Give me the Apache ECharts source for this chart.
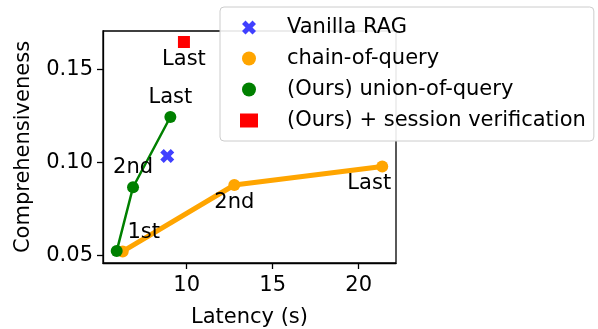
<!DOCTYPE html>
<html>
<head>
<meta charset="utf-8">
<script src="https://cdn.jsdelivr.net/npm/echarts@6/dist/echarts.min.js"></script>
<style>
  html, body { margin: 0; padding: 0; background: #fff; }
  #chart { width: 598px; height: 329px; }
</style>
</head>
<body>
<div id="chart"></div>
<script>
// data
const vanillaRag = [[8.87, 0.1036]];
const chainLatency = [6.28, 12.77, 21.37];
const chainScore = [0.0523, 0.088, 0.0979];
const chainLabels = ["1st", "2nd", "Last"];
const unionLatency = [5.93, 6.88, 9.05];
const unionScore = [0.0525, 0.0868, 0.1245];
const unionLabels = ["", "2nd", "Last"];
const sessionVerif = [[9.84, 0.1648]];
const sessionLabels = ["Last"];
const xTicks = [10, 15, 20];
const yTicks = [0.05, 0.10, 0.15];

const FONT = "DejaVu Sans";
const FS = 21;
const X_ICON = "path://M0,2.5 L2.5,0 L5,2.5 L7.5,0 L10,2.5 L7.5,5 L10,7.5 L7.5,10 L5,7.5 L2.5,10 L0,7.5 L2.5,5 Z";

// label offsets (px) for each annotated point
const chainOffsets = [[21, -19], [0, 18], [-13, 17]];
const unionOffsets = [[0, 0], [0, -20], [0, -19]];

function withLabels(xs, ys, labels, offsets) {
  return xs.map((x, i) => ({
    value: [x, ys[i]],
    label: {
      show: !!labels[i],
      formatter: labels[i],
      position: "inside",
      offset: offsets[i],
      color: "#000",
      fontSize: FS,
      fontFamily: FONT,
    },
  }));
}

const chart = echarts.init(document.getElementById("chart"));
const option = {
  animation: false,
  grid: {
    left: 103, right: 202, top: 31, bottom: 66,
    outerBoundsMode: "none",
    containLabel: false,
    show: true, borderColor: "#000", borderWidth: 1.3,
  },
  legend: {
    orient: "vertical",
    left: 220, top: 7,
    padding: [10, 8, 10, 20],
    itemGap: 10,
    itemWidth: 18, itemHeight: 14,
    backgroundColor: "rgba(255,255,255,0.9)",
    borderColor: "#cccccc", borderWidth: 1, borderRadius: 4,
    textStyle: { fontSize: FS, fontFamily: FONT, color: "#000", lineHeight: 20, padding: [0, 0, 0, 24] },
    data: [
      { name: "Vanilla RAG", icon: X_ICON },
      { name: "chain-of-query", icon: "circle" },
      { name: "(Ours) union-of-query", icon: "circle" },
      { name: "(Ours) + session verification", icon: "rect" },
    ],
  },
  xAxis: {
    type: "value",
    min: 5.134, max: 22.17,
    name: "Latency (s)",
    nameLocation: "middle", nameGap: 44,
    nameTextStyle: { fontSize: FS, fontFamily: FONT, color: "#000" },
    splitLine: { show: false },
    axisLine: { show: true, onZero: false, lineStyle: { color: "#000", width: 1.3 } },
    axisTick: { show: true, length: 6, customValues: xTicks, lineStyle: { color: "#000", width: 1.3 } },
    axisLabel: { customValues: xTicks, margin: 12, fontSize: FS, fontFamily: FONT, color: "#000" },
  },
  yAxis: {
    type: "value",
    min: 0.0461, max: 0.1707,
    name: "Comprehensiveness",
    nameLocation: "middle", nameGap: 69,
    nameTextStyle: { fontSize: FS, fontFamily: FONT, color: "#000" },
    splitLine: { show: false },
    axisLine: { show: true, onZero: false, lineStyle: { color: "#000", width: 1.3 } },
    axisTick: { show: true, length: 6, customValues: yTicks, lineStyle: { color: "#000", width: 1.3 } },
    axisLabel: {
      customValues: yTicks, margin: 10, fontSize: FS, fontFamily: FONT, color: "#000",
      formatter: (v) => v.toFixed(2),
    },
  },
  series: [
    {
      name: "Vanilla RAG",
      type: "scatter",
      symbol: X_ICON,
      symbolSize: 14,
      itemStyle: { color: "#4040ff", opacity: 1 },
      data: vanillaRag,
      z: 3,
    },
    {
      name: "chain-of-query",
      type: "line",
      symbol: "circle",
      symbolSize: 12,
      showAllSymbol: true,
      lineStyle: { color: "#ffa500", width: 5 },
      itemStyle: { color: "#ffa500", borderWidth: 0 },
      data: withLabels(chainLatency, chainScore, chainLabels, chainOffsets),
      z: 2,
    },
    {
      name: "(Ours) union-of-query",
      type: "line",
      symbol: "circle",
      symbolSize: 12,
      showAllSymbol: true,
      lineStyle: { color: "#008000", width: 2.5 },
      itemStyle: { color: "#008000", borderWidth: 0 },
      data: withLabels(unionLatency, unionScore, unionLabels, unionOffsets),
      z: 4,
    },
    {
      name: "(Ours) + session verification",
      type: "scatter",
      symbol: "rect",
      symbolSize: 12,
      itemStyle: { color: "#ff0000", opacity: 1 },
      data: withLabels(sessionVerif.map(d => d[0]), sessionVerif.map(d => d[1]), sessionLabels, [[0, 18]]),
      z: 3,
    },
  ],
};
chart.setOption(option);
</script>
</body>
</html>
